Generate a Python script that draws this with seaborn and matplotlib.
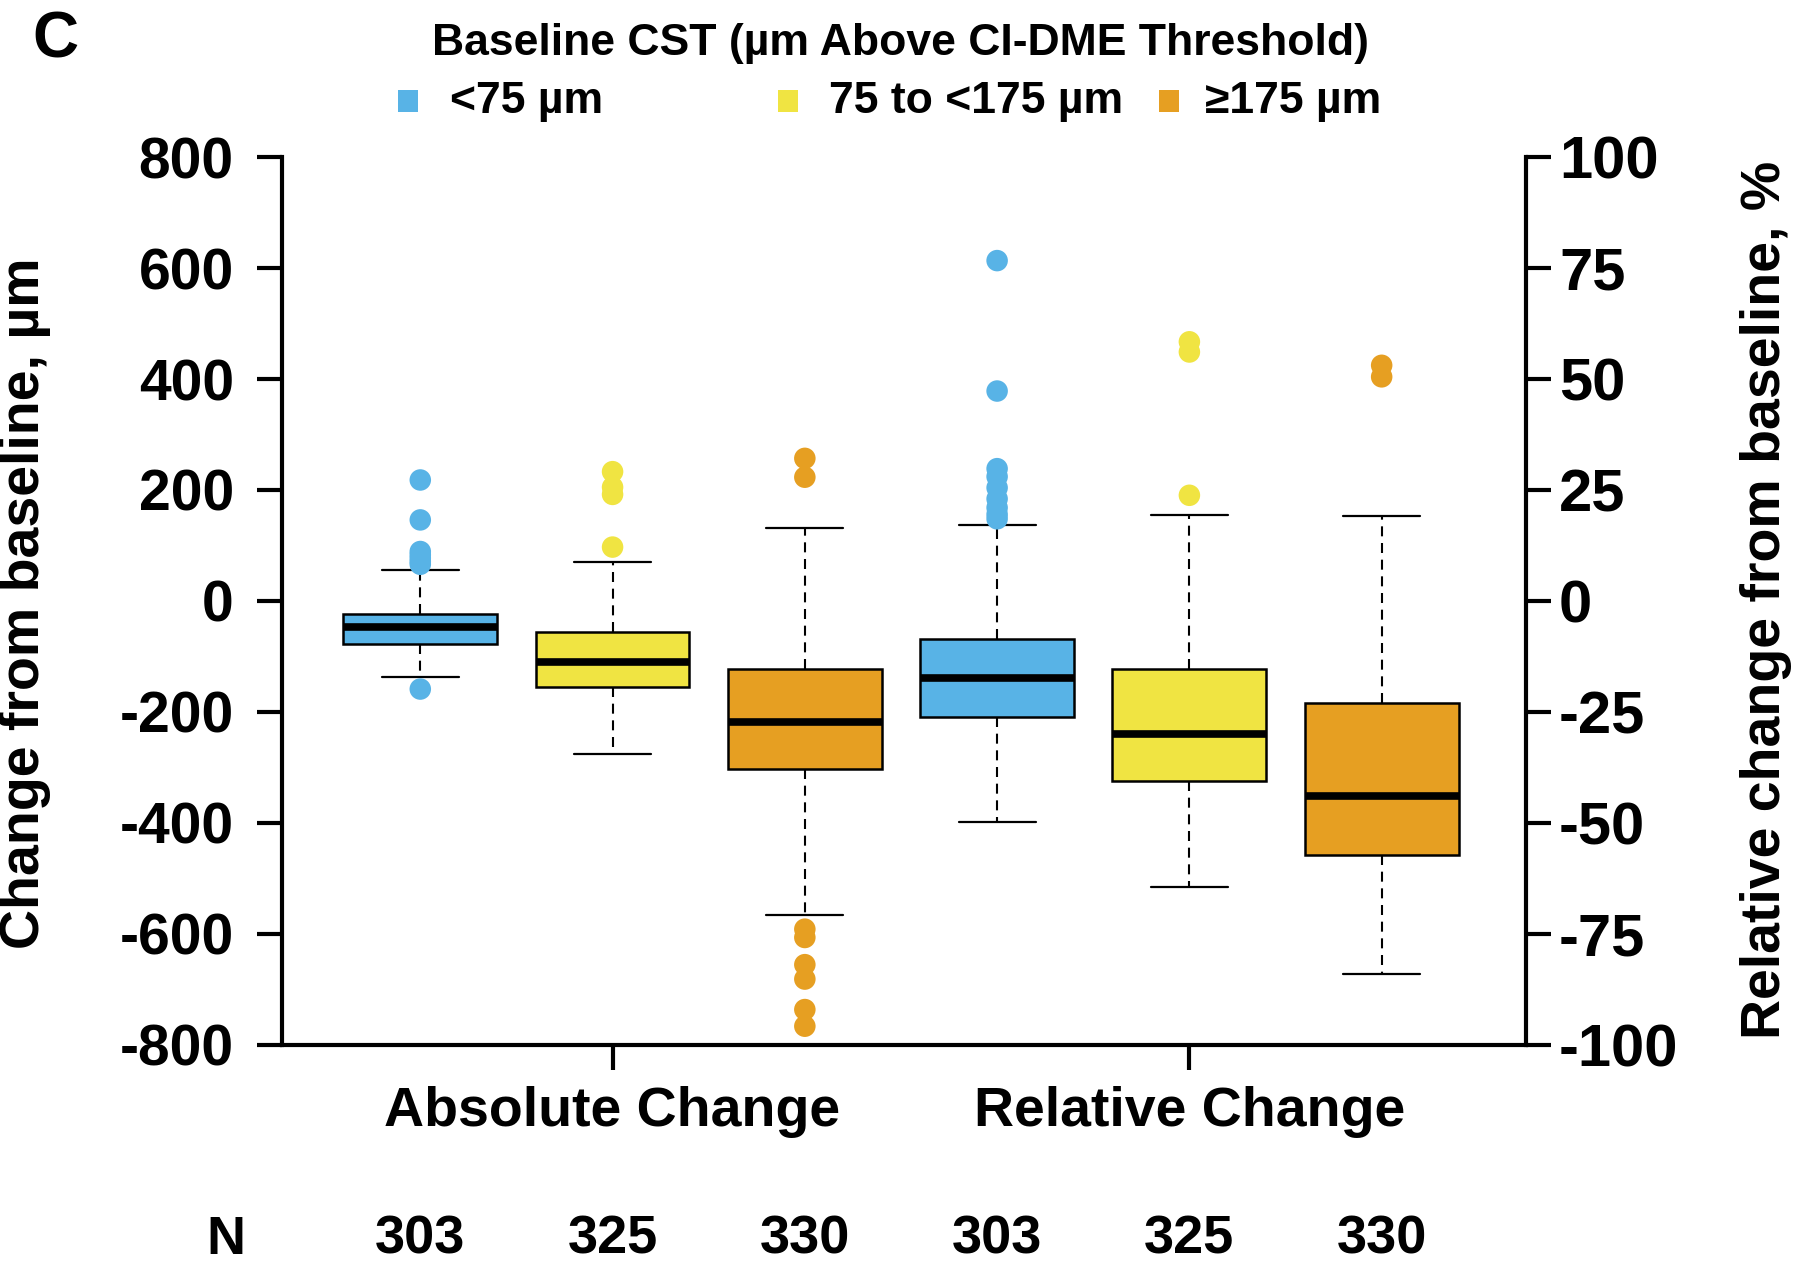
import numpy as np
import pandas as pd
import matplotlib
matplotlib.use("Agg")
import matplotlib.pyplot as plt
from matplotlib.patches import Rectangle
import matplotlib.transforms as mtransforms
import seaborn as sns

groups = ["<75 µm", "75 to <175 µm", "≥175 µm"]
colors = ["#58B3E6", "#F0E442", "#E69F22"]
n_counts = [303, 325, 330, 303, 325, 330]
abs_pos = [1, 2, 3]
rel_pos = [4, 5, 6]

# Absolute change from baseline, µm
abs_whislo = [-138, -277, -567]
abs_q1 = [-77.5, -155, -304]
abs_med = [-47.4, -111, -218]
abs_q3 = [-23.4, -57, -122]
abs_whishi = [56, 70, 131]
abs_fliers = [[218, 146, 89, 83, 77, 71, 66, -159],
              [233, 205, 192, 97],
              [257, 223, -592, -607, -656, -682, -737, -767]]

# Relative change from baseline, %
rel_whislo = [-49.9, -64.4, -84.1]
rel_q1 = [-26.1, -40.7, -57.3]
rel_med = [-17.4, -29.9, -43.9]
rel_q3 = [-8.5, -15.4, -23.1]
rel_whishi = [17.0, 19.4, 19.1]
rel_fliers = [[76.7, 47.3, 29.8, 28, 25.5, 23, 21, 19.5, 18.5],
              [58.4, 56.1, 23.8],
              [53.1, 50.5]]

sns.set_style("ticks")
plt.rcParams["font.family"] = ["Liberation Sans", "DejaVu Sans"]
plt.rcParams["font.weight"] = "bold"
plt.rcParams["axes.labelweight"] = "bold"
plt.rcParams["axes.unicode_minus"] = False
for k in ["text.color", "axes.labelcolor", "xtick.color", "ytick.color", "axes.edgecolor"]:
    plt.rcParams[k] = "black"

palette = dict(zip(groups, colors))


def make_stats(lo, q1, med, q3, hi):
    return [dict(whislo=a, q1=b, med=c, q3=d, whishi=e, fliers=[])
            for a, b, c, d, e in zip(lo, q1, med, q3, hi)]


def draw_boxes(ax, stats, pos):
    bp = ax.bxp(stats, positions=pos, widths=0.8, capwidths=0.4,
                patch_artist=True, showfliers=False,
                boxprops=dict(linewidth=1.8, edgecolor="black"),
                medianprops=dict(color="black", linewidth=5.5, solid_capstyle="butt"),
                whiskerprops=dict(color="black", linewidth=1.5, linestyle=(0, (4.8, 3.2))),
                capprops=dict(color="black", linewidth=1.6))
    for patch, c in zip(bp["boxes"], colors):
        patch.set_facecolor(c)


def flier_df(fliers, pos):
    rows = []
    for g, p, vals in zip(groups, pos, fliers):
        for v in vals:
            rows.append({"pos": p, "value": v, "group": g})
    return pd.DataFrame(rows)


fig = plt.figure(figsize=(18, 12.65), dpi=100)
ax = fig.add_axes([0.1569, 0.1743, 0.6907, 0.7014])
ax2 = ax.twinx()

draw_boxes(ax, make_stats(abs_whislo, abs_q1, abs_med, abs_q3, abs_whishi), abs_pos)
draw_boxes(ax2, make_stats(rel_whislo, rel_q1, rel_med, rel_q3, rel_whishi), rel_pos)

sns.scatterplot(data=flier_df(abs_fliers, abs_pos), x="pos", y="value", hue="group",
                palette=palette, s=240, linewidth=0, legend=False, ax=ax, zorder=4)
sns.scatterplot(data=flier_df(rel_fliers, rel_pos), x="pos", y="value", hue="group",
                palette=palette, s=240, linewidth=0, legend=False, ax=ax2, zorder=4)

ax.set_ylim(-800, 800)
ax2.set_ylim(-100, 100)
ax.set_xlim(0.283, 6.749)
ax.set_yticks(np.arange(-800, 801, 200))
ax2.set_yticks(np.arange(-100, 101, 25))
ax.set_xticks([2, 5])
ax.set_xticklabels(["Absolute Change", "Relative Change"])
ax.set_xlabel("")
ax.set_ylabel("")
ax2.set_xlabel("")
ax2.set_ylabel("")

for s in ["top", "right"]:
    ax.spines[s].set_visible(False)
for s in ["top", "left", "bottom"]:
    ax2.spines[s].set_visible(False)
for s in ["left", "bottom"]:
    ax.spines[s].set_linewidth(3.0)
ax2.spines["right"].set_linewidth(3.0)

ax.tick_params(axis="y", length=18, width=3.0, labelsize=41, pad=17)
ax.tick_params(axis="x", length=18, width=3.0, labelsize=40, pad=12)
ax2.tick_params(axis="y", length=18, width=3.0, labelsize=43, pad=6)

fig.text(25 / 1800, 1 - 603 / 1265, "Change from baseline, µm", rotation=90,
         ha="center", va="center", fontsize=40, fontweight="bold")
fig.text(1766 / 1800, 1 - 600 / 1265, "Relative change from baseline, %", rotation=90,
         ha="center", va="center", fontsize=40, fontweight="bold")

fig.text(55 / 1800, 1 - 40 / 1265, "C", ha="center", va="center", fontsize=46, fontweight="bold")
fig.text(0.5, 1 - 44 / 1265, "Baseline CST (µm Above CI-DME Threshold)",
         ha="center", va="center", fontsize=32, fontweight="bold")

# legend row
sq_x = [407.5, 787.5, 1168.7]
lab_x = [450, 829, 1205]
leg_y = 1 - 101 / 1265
for sx, lx, g, c in zip(sq_x, lab_x, groups, colors):
    fig.add_artist(Rectangle(((sx - 10) / 1800, leg_y - 11 / 1265), 20 / 1800, 22 / 1265,
                             transform=fig.transFigure, facecolor=c, edgecolor="none"))
    fig.text(lx / 1800, leg_y, g, ha="left", va="center", fontsize=32, fontweight="bold")

# N row
trans = mtransforms.blended_transform_factory(ax.transData, fig.transFigure)
n_y = 1 - 1240 / 1265
fig.text(226 / 1800, n_y, "N", ha="center", va="center", fontsize=39, fontweight="bold")
for p, n in zip(abs_pos + rel_pos, n_counts):
    ax.text(p, n_y, str(n), transform=trans, ha="center", va="center",
            fontsize=39, fontweight="bold", clip_on=False)

fig.savefig("out.png", dpi=100)
